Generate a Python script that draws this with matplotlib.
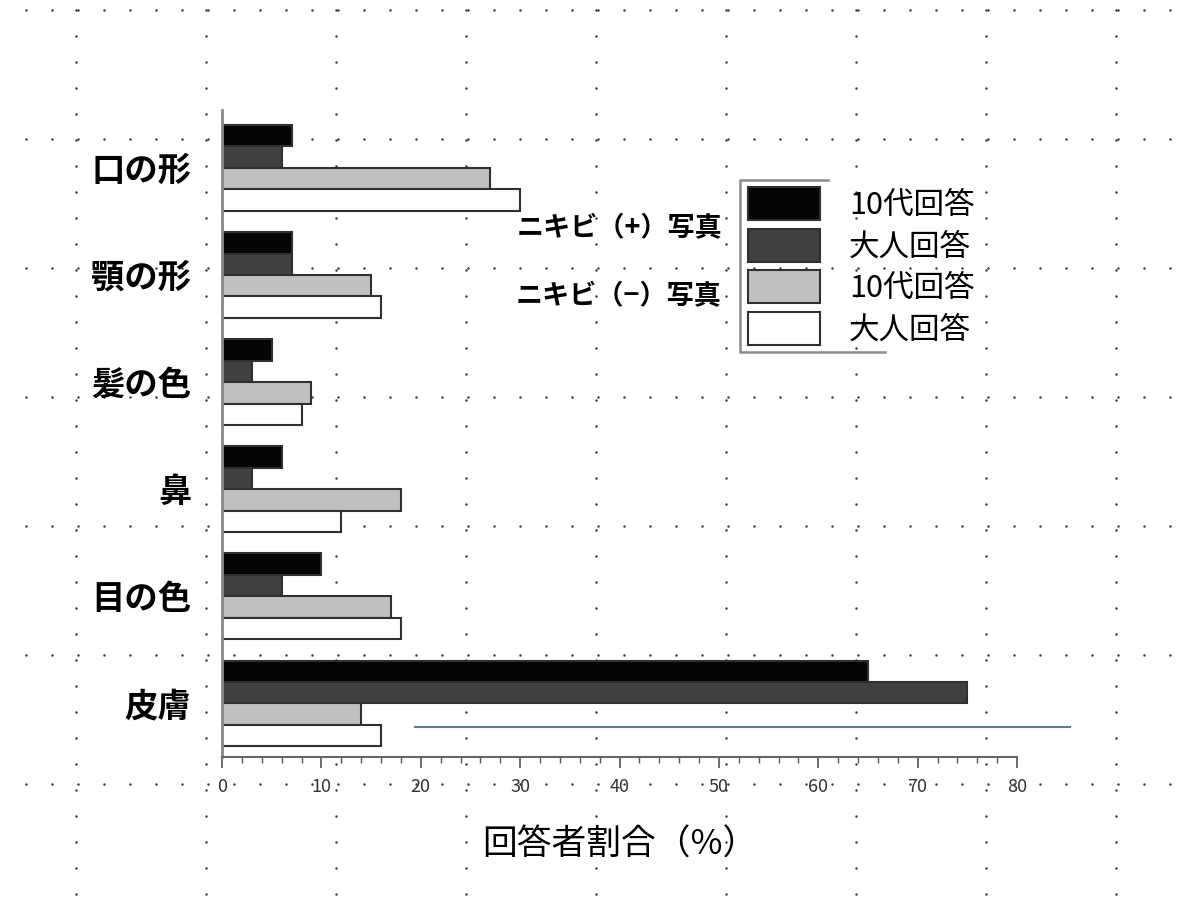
import numpy as np
from matplotlib import pyplot as plt
from matplotlib.lines import Line2D

plt.rcParams['font.family'] = ['Noto Sans CJK JP', 'DejaVu Sans']

# data
categories = ['口の形', '顎の形', '髪の色', '鼻', '目の色', '皮膚']
teen_plus = [7, 7, 5, 6, 10, 65]
adult_plus = [6, 7, 3, 3, 6, 75]
teen_minus = [27, 15, 9, 18, 17, 14]
adult_minus = [30, 16, 8, 12, 18, 16]
series = [teen_plus, adult_plus, teen_minus, adult_minus]
series_labels = ['10代回答', '大人回答', '10代回答', '大人回答']
colors = ['#050505', '#404040', '#c0c0c0', '#ffffff']
xticks = [0, 10, 20, 30, 40, 50, 60, 70, 80]

W, H = 1200, 905
fig = plt.figure(figsize=(W / 100, H / 100), dpi=100)

# background dotted grid (pixel coords)
bg = fig.add_axes([0, 0, 1, 1], zorder=-1)
bg.set_xlim(0, W)
bg.set_ylim(H, 0)
bg.axis('off')
cols = np.arange(76, W, 130)
rows = np.arange(10, H, 129)
step = np.arange(-52, W + 60, 26)
for r in rows:
    xs = step[(step > 15) & (step < W - 5)]
    bg.scatter(xs, np.full(len(xs), r), s=3, color='#333333', lw=0)
vy = np.arange(10, H, 26)
for c in cols:
    bg.scatter(np.full(len(vy), c), vy, s=3, color='#333333', lw=0)

# stray line and legend bracket
bg.add_line(Line2D([415, 1070], [727, 727], color='#5f7f8f', lw=1.5))
bg.add_line(Line2D([828, 740, 740, 885], [180, 180, 352, 352], color='#8a8a8a', lw=1.8))

ax = fig.add_axes([222 / W, 1 - 757 / H, (1017 - 222) / W, (757 - 110) / H])
ax.patch.set_alpha(0)

y = np.arange(len(categories))
offsets = [-0.3, -0.1, 0.1, 0.3]
bars = []
for vals, off, col, lab in zip(series, offsets, colors, series_labels):
    b = ax.barh(y + off, vals, height=0.2, color=col, edgecolor='#303030',
                linewidth=1.5, label=lab)
    bars.append(b)

ax.set_xlim(0, 80)
ax.set_ylim(len(categories) - 0.5, -0.54)
ax.set_xticks(xticks)
ax.set_xticks(np.arange(0, 81, 2), minor=True)
ax.tick_params(axis='x', which='major', length=8, width=1.2, color='#555555',
               labelsize=13, labelcolor='#333333', pad=7)
ax.tick_params(axis='x', which='minor', length=4, width=1, color='#555555')
ax.set_yticks(y)
ax.set_yticklabels(categories, fontsize=24, fontweight='bold')
ax.tick_params(axis='y', length=0, pad=22)

for s in ['top', 'right']:
    ax.spines[s].set_visible(False)
ax.spines['left'].set_color('#888888')
ax.spines['left'].set_linewidth(2)
ax.spines['bottom'].set_color('#666666')
ax.spines['bottom'].set_linewidth(1.5)

ax.set_xlabel('回答者割合（%）', fontsize=25)
ax.xaxis.set_label_coords(0.5, -0.136)
ax.xaxis.label.set_va('center')

leg = ax.legend(handles=bars, loc='upper left',
                bbox_to_anchor=(748 / W, 1 - 187 / H),
                bbox_transform=fig.transFigure, frameon=False,
                fontsize=22, handlelength=2.35, handleheight=1.3,
                labelspacing=0.25, handletextpad=0.95, borderpad=0,
                borderaxespad=0)

fig.text(722 / W, 1 - 228 / H, 'ニキビ（+）写真', ha='right', va='center',
         fontsize=19.5, fontweight='bold')
fig.text(722 / W, 1 - 296 / H, 'ニキビ（−）写真', ha='right', va='center',
         fontsize=19.5, fontweight='bold')

fig.savefig('out.png', dpi=100)
